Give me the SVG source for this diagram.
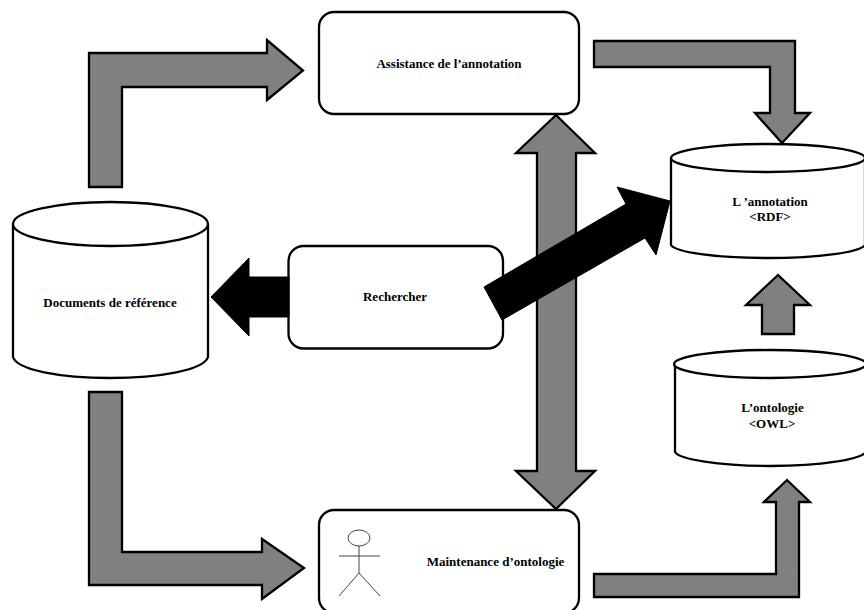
<svg xmlns="http://www.w3.org/2000/svg" width="864" height="610" viewBox="0 0 864 610">
<style>
.box{fill:#fff;stroke:#000;stroke-width:2.300}
.cyl{fill:#fff;stroke:#000;stroke-width:2.300}
.g{fill:#808080;stroke:#000;stroke-width:2.300}
.k{fill:#000;stroke:#000;stroke-width:1}
.fig{fill:none;stroke:#444;stroke-width:1}
text{font-family:"Liberation Serif","Times New Roman",serif;font-weight:bold;font-size:13px;text-anchor:middle;fill:#000}
</style>
<rect width="864" height="610" fill="#fff"/>
<g id="node-assistance"><rect class="box" x="319" y="12" width="260" height="102" rx="15"/><text x="449" y="68">Assistance de l’annotation</text></g>
<g id="node-rechercher"><rect class="box" x="288.500" y="246" width="214.500" height="102.500" rx="15"/><text x="395" y="301">Rechercher</text></g>
<g id="node-maintenance"><rect class="box" x="319" y="510" width="260" height="103" rx="15"/>
<ellipse class="fig" cx="359" cy="538" rx="11" ry="8"/><path class="fig" d="M359 546V573M339 556H380M359 573L339 596M359 573L380 596"/>
<text x="495.500" y="566">Maintenance d’ontologie</text></g>
<g id="node-documents"><path class="cyl" d="M13 224V357C17 370 60 378 110 378C160 378 204 370 208 357V224"/><ellipse class="cyl" cx="110.500" cy="224" rx="97.500" ry="22"/><text x="110" y="307">Documents de référence</text></g>
<g id="node-annotation"><path class="cyl" d="M671 158V245C675 252 715 258 768 258C820 258 860 252 865 245V158"/><ellipse class="cyl" cx="768" cy="158" rx="97" ry="14"/><text x="770" y="206">L ’annotation</text><text x="770" y="221">&lt;RDF&gt;</text></g>
<g id="node-ontologie"><path class="cyl" d="M675 364V452C679 459 718 466 770 466C822 466 861 459 866 452V364"/><ellipse class="cyl" cx="770" cy="364" rx="96" ry="14"/><text x="772.500" y="412">L’ontologie</text><text x="772" y="428">&lt;OWL&gt;</text></g>
<g id="connectors">
<path class="g" d="M89 187H122V87H267V100L303 70.500L267 40V53H89Z"/>
<path class="g" d="M594 41H795V113H810L782 143L755 113H770V67H594Z"/>
<path class="g" d="M556 115L595 153H576V471H595L556 509L516 471H537V153H516Z"/>
<path class="g" d="M89 392H122V552H262V539L304 568L262 599V585H89Z"/>
<path class="g" d="M594 574H776V502H764L787 480L810 502H799V597H594Z"/>
<path class="g" d="M778 275L810 305H794V334H762V305H746Z"/>
<path class="k" d="M289 277H249V258L211 297L249 336V317H289Z"/>
<path class="k" d="M484 287L626 204L617 187L670 201L656 255L645 238L502 320Z"/>
</g>
</svg>
